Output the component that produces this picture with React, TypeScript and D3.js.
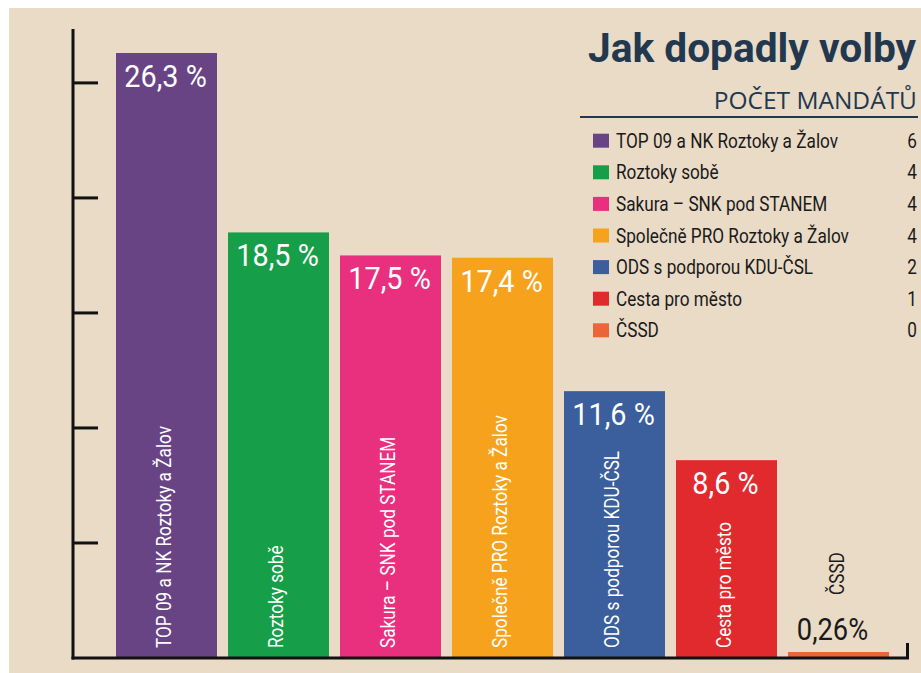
import React from "react";
import * as d3 from "d3";

const parties = [
  "TOP 09 a NK Roztoky a Žalov",
  "Roztoky sobě",
  "Sakura – SNK pod STANEM",
  "Společně PRO Roztoky a Žalov",
  "ODS s podporou KDU-ČSL",
  "Cesta pro město",
  "ČSSD",
];
const shares = [26.3, 18.5, 17.5, 17.4, 11.6, 8.6, 0.26];
const shareLabels = ["26,3 %", "18,5 %", "17,5 %", "17,4 %", "11,6 %", "8,6 %", "0,26%"];
const seats = [6, 4, 4, 4, 2, 1, 0];
const colors = ["#694485", "#169F48", "#E8307F", "#F6A21C", "#3B5E9C", "#E12A2D", "#EA6537"];
const yTicks = [5, 10, 15, 20, 25];

const FONT = "Roboto, 'Noto Sans', sans-serif";

type TxtProps = {
  x: number;
  y: number;
  rot?: number;
  sx: number;
  size: number;
  fill: string;
  anchor?: "start" | "middle" | "end";
  weight?: string;
  children: React.ReactNode;
};

function Txt({ x, y, rot = 0, sx, size, fill, anchor = "start", weight = "normal", children }: TxtProps) {
  return (
    <text
      transform={`translate(${x},${y}) rotate(${rot}) scale(${sx},1)`}
      textAnchor={anchor}
      fill={fill}
      fontFamily={FONT}
      fontSize={size}
      fontWeight={weight}
    >
      {children}
    </text>
  );
}

export default function App() {
  const W = 921;
  const H = 673;
  const baseY = 658;
  const x = d3
    .scaleBand<string>()
    .domain(parties)
    .range([116, 889])
    .paddingInner(11 / 112)
    .paddingOuter(0);
  const y = d3.scaleLinear().domain([0, 26.3]).range([baseY, 53]);
  const bw = x.bandwidth();

  return (
    <svg
      width={W}
      height={H}
      style={{ position: "absolute", left: 0, top: 0, display: "block" }}
    >
      <rect x={0} y={0} width={W} height={H} fill="#ffffff" />
      <rect x={9} y={8} width={W - 9} height={H - 8} fill="#EADBC7" />

      {/* bars */}
      {parties.map((p, i) => {
        const bx = x(p)!;
        const top = y(shares[i]);
        const cx = bx + bw / 2;
        const inside = shares[i] > 5;
        return (
          <g key={p}>
            <rect x={bx} y={top} width={bw} height={baseY - top} fill={colors[i]} />
            {inside ? (
              <>
                <Txt x={cx - 1} y={top + 34} sx={0.93} size={31} fill="#ffffff" anchor="middle">
                  {shareLabels[i]}
                </Txt>
                <Txt x={cx + 4} y={648} rot={-90} sx={0.86} size={20} fill="#ffffff">
                  {p}
                </Txt>
              </>
            ) : (
              <>
                <Txt x={cx - 6} y={640} sx={0.88} size={31} fill="#1a1a1a" anchor="middle">
                  {shareLabels[i]}
                </Txt>
                <Txt x={cx + 5} y={595} rot={-90} sx={0.86} size={20} fill="#1a1a1a">
                  {p}
                </Txt>
              </>
            )}
          </g>
        );
      })}

      {/* axes */}
      <line x1={73} x2={73} y1={29} y2={659.5} stroke="#111" strokeWidth={3} />
      {yTicks.map((t) => (
        <line key={t} x1={73} x2={98} y1={y(t)} y2={y(t)} stroke="#111" strokeWidth={3} />
      ))}
      <path d={`M71.5,${baseY} H907.5 V643`} fill="none" stroke="#111" strokeWidth={3} />

      {/* title */}
      <text
        x={916}
        y={62}
        textAnchor="end"
        fill="#22384E"
        fontFamily={FONT}
        fontWeight="bold"
        fontSize={40}
        textLength={328}
        lengthAdjust="spacingAndGlyphs"
      >
        Jak dopadly volby
      </text>
      <text
        x={917}
        y={109}
        textAnchor="end"
        fill="#22384E"
        fontFamily="'Open Sans', 'Noto Sans', sans-serif"
        fontSize={24.5}
      >
        POČET MANDÁTŮ
      </text>
      <line x1={580} x2={918} y1={117} y2={117} stroke="#22384E" strokeWidth={2} />

      {/* legend */}
      {parties.map((p, i) => {
        const cy = 140.7 + i * 31.6;
        return (
          <g key={"lg" + p}>
            <rect x={593} y={cy - 7} width={16} height={14} fill={colors[i]} />
            <Txt x={616} y={cy + 7} sx={0.86} size={20} fill="#1a1a1a">
              {p}
            </Txt>
            <Txt x={917} y={cy + 7} sx={0.86} size={20} fill="#1a1a1a" anchor="end">
              {seats[i]}
            </Txt>
          </g>
        );
      })}
    </svg>
  );
}
